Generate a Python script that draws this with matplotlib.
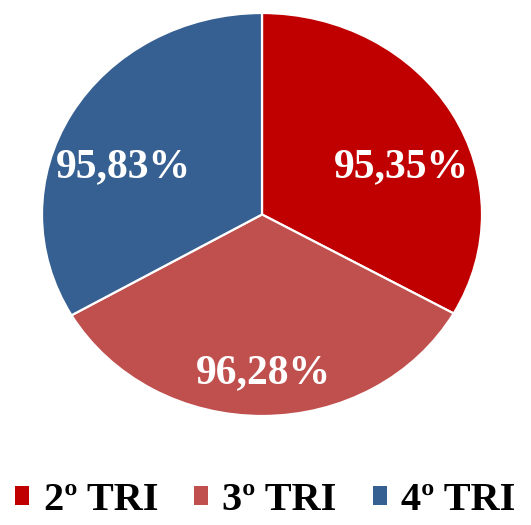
import matplotlib.pyplot as plt
from matplotlib.patches import Patch

trimestres = ['2º TRI', '3º TRI', '4º TRI']
valores = [95.35, 96.28, 95.83]
rotulos = ['95,35%', '96,28%', '95,83%']
cores = ['#C00000', '#C0504D', '#376092']

# posicao dos rotulos (fracao do raio, como o Excel coloca)
pos_rotulos = [(0.636, 0.233), (0.005, -0.787), (-0.632, 0.233)]

plt.rcParams['font.family'] = ['Liberation Serif', 'DejaVu Serif']
plt.rcParams['font.weight'] = 'bold'

fig = plt.figure(figsize=(5.31, 5.25), dpi=100)
ax = fig.add_axes([42 / 531, 1 - 416 / 525, 440 / 531, 403 / 525])

ax.pie(valores, colors=cores, startangle=90, counterclock=False,
       wedgeprops=dict(edgecolor='white', linewidth=1.6))
ax.set_aspect('auto')
ax.set_xlim(-1, 1)
ax.set_ylim(-1, 1)
ax.axis('off')

for (x, y), txt in zip(pos_rotulos, rotulos):
    ax.text(x, y, txt, color='white', fontsize=30, fontweight='bold',
            ha='center', va='center')

handles = [Patch(facecolor=c, edgecolor='none') for c in cores]
fig.legend(handles, trimestres, loc='lower center', bbox_to_anchor=(0.5, -0.035),
           ncol=3, frameon=False, handlelength=0.35, handleheight=0.35,
           handletextpad=0.35, columnspacing=0.9, borderpad=0.1,
           prop=dict(family='Liberation Serif', weight='bold', size=29))

fig.savefig('out.png', dpi=100)
